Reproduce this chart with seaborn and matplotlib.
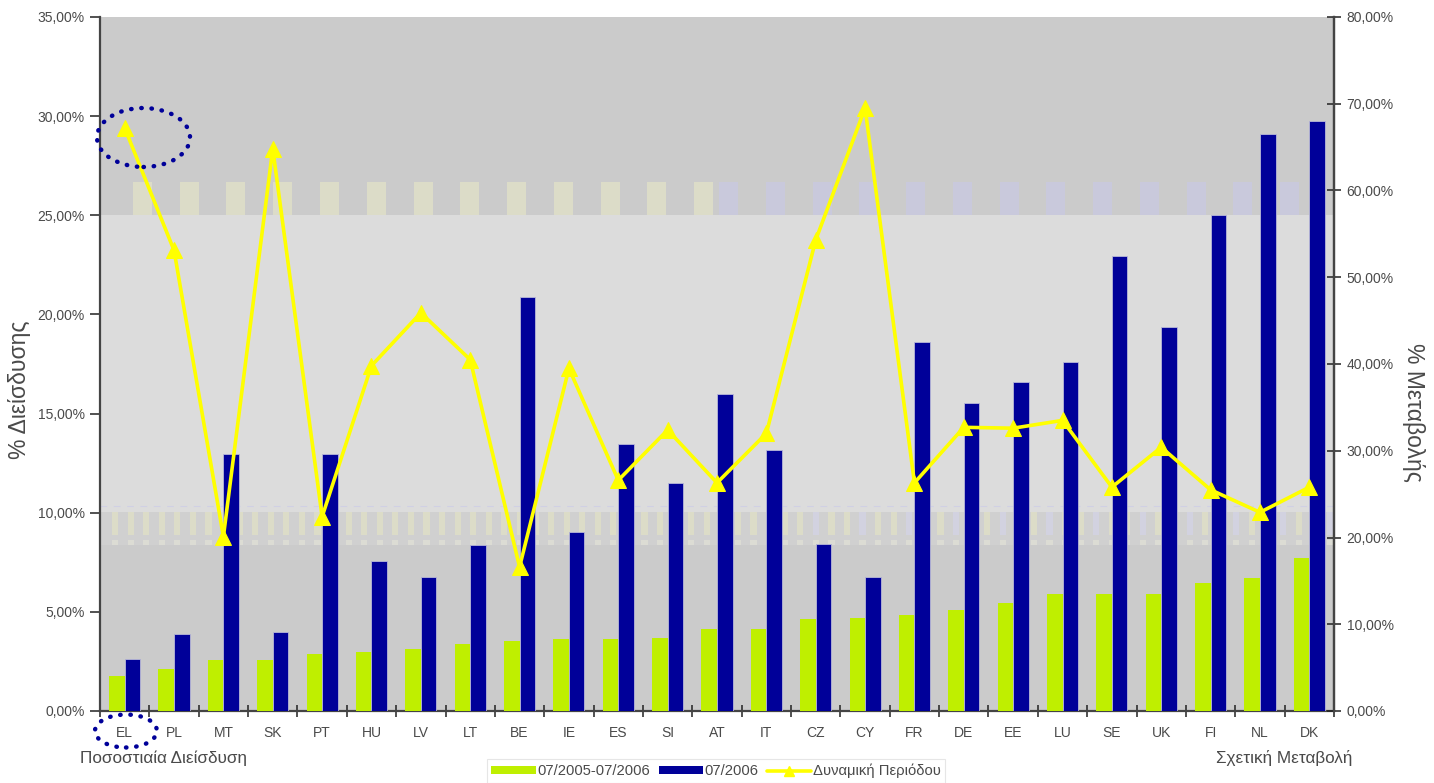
import numpy as np
import pandas as pd
import matplotlib
matplotlib.use("Agg")
import matplotlib.pyplot as plt
import matplotlib.transforms as mtransforms
import seaborn as sns
from matplotlib.patches import Ellipse, Rectangle, Patch
from matplotlib.lines import Line2D
from matplotlib.ticker import FuncFormatter

# ---- data -------------------------------------------------------------
countries = ["EL", "PL", "MT", "SK", "PT", "HU", "LV", "LT", "BE", "IE", "ES", "SI", "AT",
             "IT", "CZ", "CY", "FR", "DE", "EE", "LU", "SE", "UK", "FI", "NL", "DK"]
penetration_0506 = [1.78, 2.10, 2.57, 2.57, 2.89, 2.97, 3.13, 3.36, 3.51, 3.61, 3.61, 3.68, 4.15,
                    4.15, 4.62, 4.71, 4.84, 5.09, 5.43, 5.90, 5.90, 5.90, 6.47, 6.71, 7.73]
penetration_0706 = [2.62, 3.90, 12.96, 3.98, 12.96, 7.58, 6.77, 8.37, 20.90, 9.01, 13.48, 11.48, 15.97,
                    13.16, 8.44, 6.77, 18.62, 15.52, 16.59, 17.62, 22.96, 19.38, 25.00, 29.10, 29.75]
relative_change = [67.2, 53.1, 20.1, 64.8, 22.4, 39.8, 45.9, 40.5, 16.6, 39.5, 26.6, 32.4, 26.3,
                   32.0, 54.3, 69.5, 26.3, 32.7, 32.6, 33.5, 25.8, 30.4, 25.5, 22.9, 25.8]

series_names = ["07/2005-07/2006", "07/2006", "Δυναμική Περιόδου"]
left_ticks = [0, 5, 10, 15, 20, 25, 30, 35]
right_ticks = [0, 10, 20, 30, 40, 50, 60, 70, 80]

GREEN = "#bfef00"
BLUE = "#000099"
YELLOW = "#ffff00"
TXT = "#4a4a4a"

df = pd.DataFrame({
    "country": countries * 2,
    "value": penetration_0506 + penetration_0706,
    "series": [series_names[0]] * len(countries) + [series_names[1]] * len(countries),
})

sns.set_theme(style="white")
plt.rcParams["font.family"] = ["Liberation Sans", "DejaVu Sans"]

W, H = 1434, 783
fig = plt.figure(figsize=(W / 100, H / 100), dpi=100)
ax = fig.add_axes([100 / W, 1 - 711 / H, 1234 / W, 694 / H])

# ---- plot-area background bands ---------------------------------------
ax.set_facecolor("#cbcbcb")
ax.axhspan(25, 35, color="#cbcbcb", lw=0, zorder=0)
ax.axhspan(10.05, 25, color="#dcdcdc", lw=0, zorder=0)
ax.axhspan(8.37, 10.05, color="#d0d0d0", lw=0, zorder=0)

blend = mtransforms.blended_transform_factory(ax.transAxes, ax.transData)
# faint stripes of the upper band
for k in range(13):
    x0 = 0.0267 + 0.0379 * k
    ax.add_patch(Rectangle((x0, 25.0), 0.0154, 1.7, transform=blend,
                           color="#dcdcc8", lw=0, zorder=0.5))
    x1 = 0.5016 + 0.0379 * k
    ax.add_patch(Rectangle((x1, 25.0), 0.0154, 1.7, transform=blend,
                           color="#c9c9dc", lw=0, zorder=0.5))
# faint stripes of the lower band
for k in range(79):
    x0 = 0.0097 + 0.01262 * k
    col = "#dcdcc8" if x0 < 0.5 else ("#d2d2e0" if k % 3 == 0 else "#dcdcc8")
    ax.add_patch(Rectangle((x0, 8.9), 0.0050, 1.15, transform=blend,
                           color=col, lw=0, zorder=0.5))
    ax.add_patch(Rectangle((x0, 8.37), 0.0050, 0.25, transform=blend,
                           color="#dcdcd4", lw=0, zorder=0.5))
ax.axhline(10.35, color="#d0d0e4", lw=0.8, ls=(0, (6, 6)), zorder=0.6)

# ---- bars -------------------------------------------------------------
sns.barplot(data=df, x="country", y="value", hue="series", order=countries,
            hue_order=series_names[:2], palette=[GREEN, BLUE], saturation=1,
            width=0.63, ax=ax, legend=False, zorder=3)
for p in ax.patches:
    if p.get_height() > 0 and p.get_facecolor()[:3] == matplotlib.colors.to_rgb(BLUE):
        p.set_edgecolor("#b8b8d8")
        p.set_linewidth(0.6)
    else:
        p.set_edgecolor("none")

ax.set_xlim(-0.5, len(countries) - 0.5)
ax.set_ylim(0, 35)
ax.set_yticks(left_ticks)
pct = FuncFormatter(lambda v, _: f"{v:.2f}%".replace(".", ","))
ax.yaxis.set_major_formatter(pct)
ax.set_xlabel("")
ax.set_ylabel("")

# category boundaries as major ticks, names on minor ticks
ax.set_xticks(np.arange(-0.5, len(countries), 1.0))
ax.set_xticklabels([])
ax.set_xticks(np.arange(len(countries)), minor=True)
ax.set_xticklabels(countries, minor=True)
ax.tick_params(axis="x", which="major", direction="inout", length=9, width=1.1,
               color="#222222", bottom=True)
ax.tick_params(axis="x", which="minor", length=0, pad=10.5, labelsize=10,
               labelcolor=TXT, bottom=True)
ax.tick_params(axis="y", direction="out", length=7, width=1.1, color="#222222",
               labelsize=10, labelcolor=TXT, pad=4, left=True)

ax.spines["top"].set_visible(False)
for side in ["left", "bottom", "right"]:
    ax.spines[side].set_color("#444444")
    ax.spines[side].set_linewidth(1.6)

# ---- line on the secondary axis --------------------------------------
ax2 = ax.twinx()
sns.lineplot(x=np.arange(len(countries)), y=relative_change, ax=ax2, color=YELLOW,
             lw=2.6, marker="^", markersize=11, markeredgecolor=YELLOW, zorder=5)
ax2.set_ylim(0, 80)
ax2.set_yticks(right_ticks)
ax2.yaxis.set_major_formatter(pct)
ax2.tick_params(axis="y", direction="inout", length=10, width=1.1, color="#222222",
                labelsize=10, labelcolor=TXT, pad=4, right=True)
for side in ["top", "left", "bottom"]:
    ax2.spines[side].set_visible(False)
ax2.spines["right"].set_color("#444444")
ax2.spines["right"].set_linewidth(1.6)
ax2.set_ylabel("")

# ---- texts ------------------------------------------------------------
fig.text(20 / W, 1 - 390 / H, "% Διείσδυσης", rotation=90, ha="center", va="center",
         fontsize=16.5, color=TXT)
fig.text(1413 / W, 1 - 412 / H, "% Μεταβολής", rotation=270, ha="center", va="center",
         fontsize=16.5, color=TXT)
fig.text(80 / W, 1 - 758 / H, "Ποσοστιαία Διείσδυση", ha="left", va="center",
         fontsize=12.3, color=TXT)
fig.text(1352 / W, 1 - 758 / H, "Σχετική Μεταβολή", ha="right", va="center",
         fontsize=12.3, color=TXT)

# dotted highlight rings
ring_kw = dict(fill=False, edgecolor="#000099", lw=3.2, ls=(0, (0.1, 2.2)),
               capstyle="round", transform=fig.transFigure, zorder=10)
fig.patches.append(Ellipse((143.5 / W, 1 - 137.5 / H), 93 / W, 59 / H, **ring_kw))
fig.patches.append(Ellipse((126 / W, 1 - 731 / H), 62 / W, 33 / H, **ring_kw))

# ---- legend -----------------------------------------------------------
handles = [
    Patch(facecolor=GREEN, edgecolor="none"),
    Patch(facecolor=BLUE, edgecolor="none"),
    Line2D([], [], color=YELLOW, lw=2.6, marker="^", markersize=7),
]
leg = fig.legend(handles, series_names, loc="center", ncol=3,
                 bbox_to_anchor=(716 / W, 1 - 771 / H), frameon=True, fancybox=False,
                 fontsize=10.6, handlelength=3.0, handleheight=0.45, handletextpad=0.1,
                 columnspacing=0.6, borderpad=0.3, labelcolor=TXT)
leg.get_frame().set_edgecolor("#e0e0e0")
leg.get_frame().set_linewidth(0.8)

fig.savefig("out.png", dpi=100)
